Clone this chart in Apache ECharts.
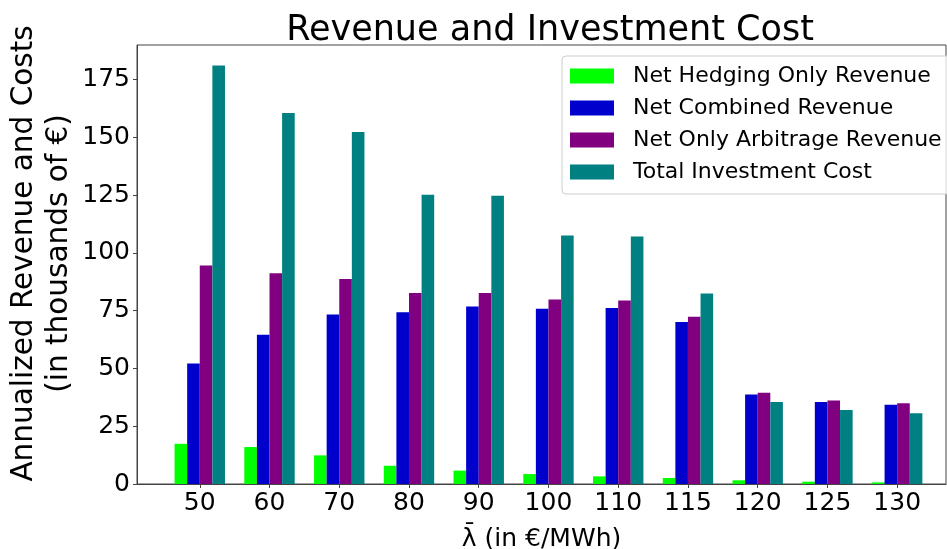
<!DOCTYPE html>
<html>
<head>
<meta charset="utf-8">
<script src="https://cdn.jsdelivr.net/npm/echarts@6/dist/echarts.min.js"></script>
<style>
    html, body { margin: 0; padding: 0; background: #fff; }
    #chart { width: 947px; height: 549px; }
</style>
</head>
<body>
<div id="chart"></div>
<script>
// lambda values on the x axis
const categories = ['50', '60', '70', '80', '90', '100', '110', '115', '120', '125', '130']
const hedging = [17.4, 16.0, 12.4, 7.9, 5.8, 4.3, 3.3, 2.6, 1.6, 1.0, 0.7]
const combined = [52.1, 64.6, 73.4, 74.3, 76.8, 75.9, 76.2, 70.1, 38.7, 35.5, 34.3]
const arbitrage = [94.6, 91.2, 88.7, 82.7, 82.7, 79.8, 79.4, 72.4, 39.5, 36.1, 34.9]
const investment = [181.1, 160.6, 152.4, 125.2, 124.8, 107.6, 107.1, 82.4, 35.5, 32.0, 30.6]
const yTicks = [0, 25, 50, 75, 100, 125, 150, 175]

const font = 'DejaVu Sans'
const chart = echarts.init(document.getElementById('chart'))

function barSeries(name, values, color) {
    return {
        name: name,
        type: 'bar',
        data: values.map((v, i) => [i, v]),
        barWidth: 12.6,
        barGap: '0%',
        itemStyle: { color: color }
    }
}

chart.setOption({
    animation: false,
    title: {
        text: 'Revenue and Investment Cost',
        left: 545,
        top: 8,
        textAlign: 'center',
        textStyle: { fontFamily: font, fontSize: 35, fontWeight: 'normal', color: '#000' }
    },
    legend: {
        orient: 'vertical',
        left: 562,
        top: 56,
        padding: [9, 14, 11, 8],
        itemWidth: 44,
        itemHeight: 15,
        itemGap: 10,
        icon: 'rect',
        borderColor: '#ccc',
        borderWidth: 1,
        borderRadius: 4,
        backgroundColor: 'rgba(255,255,255,0.8)',
        textStyle: { fontFamily: font, fontSize: 22, lineHeight: 20, color: '#000', padding: [0, 0, 0, 14] }
    },
    grid: {
        left: 137,
        right: 1,
        top: 45,
        bottom: 65,
        outerBoundsMode: 'none',
        show: true,
        borderColor: '#444',
        borderWidth: 1
    },
    xAxis: {
        type: 'value',
        min: -0.9,
        max: 10.7,
        splitLine: { show: false },
        axisLine: { lineStyle: { color: '#444' } },
        axisTick: { customValues: categories.map((c, i) => i), length: 4, lineStyle: { color: '#444' } },
        axisLabel: {
            customValues: categories.map((c, i) => i),
            formatter: v => categories[Math.round(v)],
            fontFamily: font,
            fontSize: 25,
            color: '#000',
            margin: 7
        },
        name: 'λ\u0304 (in €/MWh)',
        nameLocation: 'middle',
        nameGap: 43,
        nameTextStyle: { fontFamily: font, fontSize: 25, color: '#000' }
    },
    yAxis: {
        type: 'value',
        min: 0,
        max: 190,
        splitLine: { show: false },
        axisLine: { show: true, onZero: false, lineStyle: { color: '#444' } },
        axisTick: { show: true, customValues: yTicks, length: 4, lineStyle: { color: '#444' } },
        axisLabel: {
            customValues: yTicks,
            fontFamily: font,
            fontSize: 25,
            color: '#000',
            margin: 7
        },
        name: 'Annualized Revenue and Costs\n(in thousands of €)',
        nameLocation: 'middle',
        nameRotate: 90,
        nameGap: 60,
        nameMoveOverlap: false,
        nameTextStyle: { fontFamily: font, fontSize: 29.5, lineHeight: 35, color: '#000', padding: [0, 0, 0, 22] }
    },
    series: [
        barSeries('Net Hedging Only Revenue', hedging, '#00ff00'),
        barSeries('Net Combined Revenue', combined, '#0000cd'),
        barSeries('Net Only Arbitrage Revenue', arbitrage, '#800080'),
        barSeries('Total Investment Cost', investment, '#008080')
    ]
})

window.addEventListener('resize', () => {
    chart.resize()
})
</script>
</body>
</html>
